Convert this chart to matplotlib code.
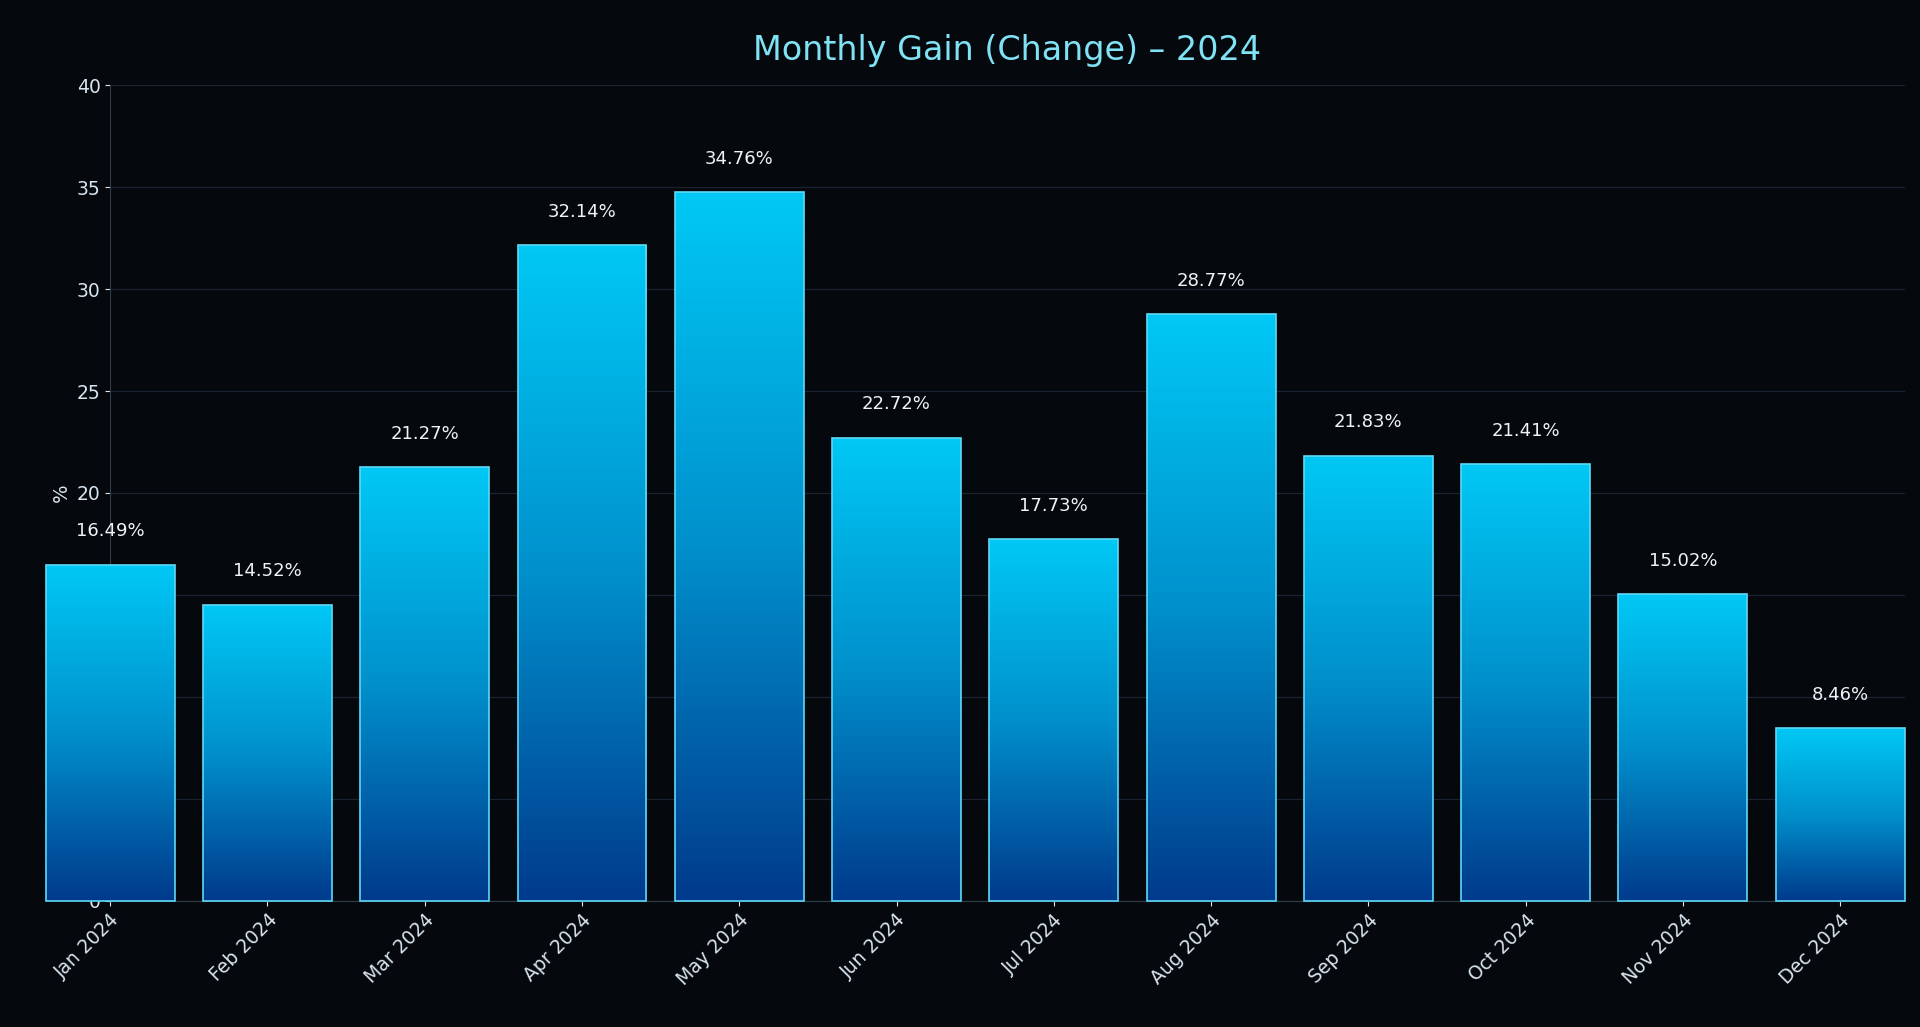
import numpy as np
import matplotlib
matplotlib.use("Agg")
import matplotlib.pyplot as plt
from matplotlib.colors import LinearSegmentedColormap

months = ["Jan 2024","Feb 2024","Mar 2024","Apr 2024","May 2024","Jun 2024",
          "Jul 2024","Aug 2024","Sep 2024","Oct 2024","Nov 2024","Dec 2024"]
values = [16.49,14.52,21.27,32.14,34.76,22.72,17.73,28.77,21.83,21.41,15.02,8.46]
yticks = [0,5,10,15,20,25,30,35,40]

bg = "#05080d"
fig = plt.figure(figsize=(19.2,10.27), dpi=100, facecolor=bg)
ax = fig.add_axes([0.0574,0.123,0.9346,0.794])
ax.set_facecolor(bg)
cmap = LinearSegmentedColormap.from_list("g", ["#003a8c","#0090cc","#00c8f5"])
grad = np.linspace(0,1,256).reshape(-1,1)
x = np.arange(len(months))
w = 0.82
bars = ax.bar(x, values, width=w, color="none", edgecolor="#5fd8f5", linewidth=1.2, zorder=4, clip_on=False)
for b, v in zip(bars, values):
    im = ax.imshow(grad, cmap=cmap, origin="lower", aspect="auto",
                   extent=[b.get_x(), b.get_x()+w, 0, v], zorder=3)
    im.set_clip_on(True)
    im.set_clip_path(b)
    ax.text(b.get_x()+w/2, v+1.2, f"{v:.2f}%", ha="center", va="bottom",
            color="#f0f4f8", fontsize=13, zorder=5)
ax.set_xlim(0, 11.41)
ax.set_ylim(0, 40)
ax.set_yticks(yticks)
ax.set_xticks(x)
ax.set_xticklabels(months, rotation=45, ha="right", rotation_mode="anchor")
ax.tick_params(colors="#d8e4ee", labelsize=13.5)
ax.yaxis.set_tick_params(zorder=1)
ax.grid(axis="y", color="#1a2430", linewidth=0.9)
ax.set_axisbelow(True)
for s in ["top","right"]:
    ax.spines[s].set_visible(False)
for s in ["left","bottom"]:
    ax.spines[s].set_color("#2e3e48")
ax.set_ylabel("%", color="#d8e4ee", fontsize=14)
ax.set_title("Monthly Gain (Change) – 2024", color="#7fe3f5", fontsize=24, pad=18)
fig.savefig("out.png", facecolor=bg)
